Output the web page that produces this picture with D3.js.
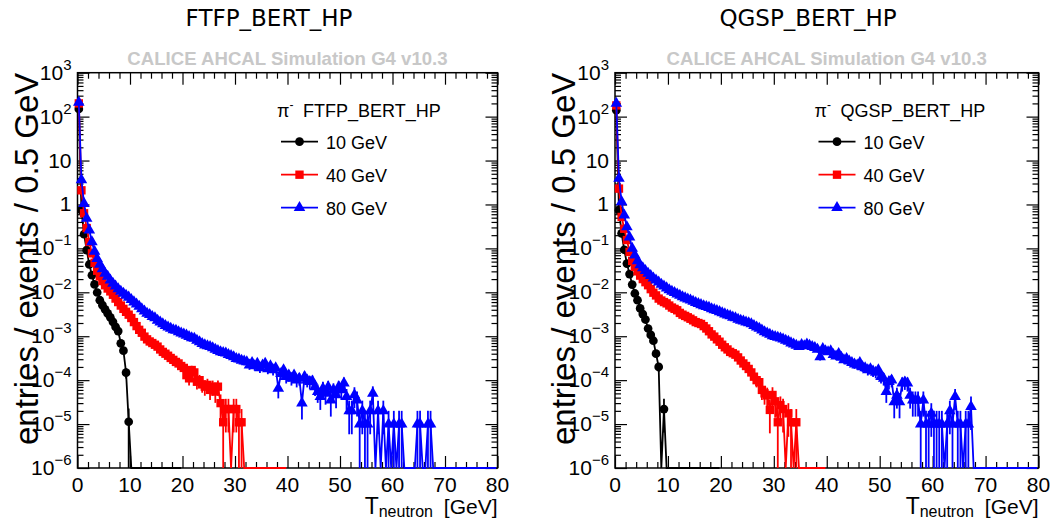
<!DOCTYPE html>
<html>
<head>
<meta charset="utf-8">
<script src="https://cdn.jsdelivr.net/npm/d3@7"></script>
<style>
body { margin: 0; background: #fff; }
svg { display: block; }
text { font-family: "Liberation Sans", Arial, sans-serif; }
</style>
</head>
<body>
<svg id="chart" width="1054" height="522"></svg>
<script>
// histograms: entries / events per 0.5 GeV bin, first bin is 0-0.5 GeV
var binWidth = 0.5;
var beams = ["10 GeV", "40 GeV", "80 GeV"];
var models = ["FTFP_BERT_HP", "QGSP_BERT_HP"];
var histEnd = [20, 40, 80];      // upper edge of each histogram (GeV)
var entryWeight = 1.05e-5;       // weight of a single entry

var ftfp10 = [150, 0.74, 0.21, 0.091, 0.043, 0.0245, 0.0151, 0.0099, 0.0066, 0.0051,
    0.0041, 0.0033, 0.0027, 0.00213, 0.00164, 0.00131, 0.00069, 0.00047, 0.000148, 1.13e-5];

var ftfp40 = [200, 2.1, 0.63, 0.29, 0.14, 0.077, 0.047, 0.031, 0.023, 0.018,
    0.0145, 0.0122, 0.0105, 0.0088, 0.0072, 0.0060, 0.0050, 0.0042, 0.0036, 0.0031,
    0.0026, 0.0021, 0.0017, 0.0014, 0.0012, 0.00098, 0.00085, 0.00076, 0.00070, 0.00064,
    0.00058, 0.00050, 0.00044, 0.00040, 0.00036, 0.00032, 0.00029, 0.00026, 0.00024, 0.00021,
    0.00019, 0.00013, 0.00011, 0.00017, 0.00015, 9.2e-5, 0.00010, 8.0e-5, 7.1e-5, 7.8e-5,
    6.0e-5, 7.1e-5, 5.5e-5, 7.1e-5, 3.0e-5, 1.1e-5, 2.2e-5, 2.2e-5, 0, 2.2e-5,
    2.2e-5, 1.1e-5, 1.1e-5];

var ftfp80 = [210, 3.6, 1.05, 0.48, 0.26, 0.14, 0.085, 0.058, 0.043, 0.034,
    0.027, 0.023, 0.019, 0.016, 0.0138, 0.0120, 0.0105, 0.0094, 0.0085, 0.0077,
    0.0068, 0.0060, 0.0054, 0.0048, 0.0042, 0.0037, 0.0033, 0.0031, 0.0028, 0.0026,
    0.0023, 0.0021, 0.0019, 0.00175, 0.0016, 0.0015, 0.0014, 0.00135, 0.00126, 0.00118,
    0.00112, 0.00105, 0.00098, 0.00092, 0.00089, 0.00080, 0.00074, 0.00068, 0.00063, 0.00060,
    0.00058, 0.00054, 0.00050, 0.00047, 0.00044, 0.00042, 0.00041, 0.00038, 0.00036, 0.00034,
    0.00031, 0.00030, 0.00028, 0.00027, 0.00026, 0.00022, 0.00025, 0.00021, 0.00024, 0.00019,
    0.00022, 0.00024, 0.00018, 0.00021, 0.00017, 0.00019, 6.5e-5, 0.00014, 0.00017, 0.00012,
    0.00013, 0.00011, 0.00013, 0.00010, 0.00011, 3.0e-5, 0.00012, 0.00010, 9.2e-5, 9.5e-5,
    7.0e-5, 5.5e-5, 4.2e-5, 6.5e-5, 5.0e-5, 7.0e-5, 3.5e-5, 6.0e-5, 4.6e-5, 7.0e-5,
    6.0e-5, 8.5e-5, 4.2e-5, 2.0e-5, 2.0e-5, 4.6e-5, 3.5e-5, 1.0e-5, 2.0e-5, 1.0e-5,
    1.0e-5, 2.0e-5, 5.0e-5, 0, 2.0e-5, 0, 2.0e-5, 0, 1.0e-5, 0,
    1.0e-5, 0, 1.0e-5, 1.0e-5, 0, 0, 0, 0, 0, 1.0e-5,
    1.0e-5, 0, 0, 1.0e-5, 1.0e-5];

var qgsp10 = [140, 0.74, 0.22, 0.093, 0.045, 0.026, 0.015, 0.0094, 0.0066, 0.0043,
    0.0032, 0.0024, 0.0015, 0.00107, 0.00079, 0.00040, 0.00020, 0, 2.2e-5];

var qgsp40 = [180, 2.3, 0.52, 0.28, 0.155, 0.083, 0.052, 0.038, 0.030, 0.024,
    0.020, 0.017, 0.0145, 0.0118, 0.0098, 0.0085, 0.0072, 0.0065, 0.0060, 0.0056,
    0.0050, 0.0045, 0.0042, 0.0039, 0.0034, 0.0031, 0.0029, 0.0027, 0.0025, 0.0023,
    0.0021, 0.0020, 0.0019, 0.0017, 0.0015, 0.0013, 0.0011, 0.00098, 0.00085, 0.00075,
    0.00064, 0.00056, 0.00050, 0.00044, 0.00041, 0.00038, 0.00033, 0.00028, 0.00024, 0.00021,
    0.00018, 0.00015, 0.00012, 0.00010, 9.0e-5, 6.0e-5, 5.0e-5, 4.5e-5, 2.1e-5, 4.6e-5,
    3.3e-5, 1.1e-5, 2.7e-5, 2.2e-5, 0, 1.75e-5, 1.1e-5, 0, 1.1e-5];

var qgsp80 = [200, 3.9, 1.15, 0.57, 0.31, 0.18, 0.10, 0.070, 0.052, 0.042,
    0.036, 0.031, 0.027, 0.024, 0.021, 0.019, 0.017, 0.0152, 0.0138, 0.0125,
    0.0114, 0.0105, 0.0098, 0.0091, 0.0085, 0.0079, 0.0074, 0.0070, 0.0066, 0.0062,
    0.0058, 0.0055, 0.0052, 0.0049, 0.0047, 0.0045, 0.0042, 0.0040, 0.0038, 0.0036,
    0.0034, 0.0032, 0.0030, 0.0029, 0.0027, 0.0026, 0.0024, 0.0023, 0.0022, 0.0021,
    0.0020, 0.0019, 0.00175, 0.0016, 0.0015, 0.00138, 0.00126, 0.00118, 0.0011, 0.00102,
    0.00098, 0.00094, 0.00090, 0.00086, 0.00080, 0.00076, 0.00070, 0.00066, 0.00062, 0.00058,
    0.00064, 0.00060, 0.00066, 0.00062, 0.00058, 0.00055, 0.00050, 0.00034, 0.00052, 0.00046,
    0.00044, 0.00046, 0.00038, 0.00035, 0.00040, 0.00033, 0.00029, 0.00031, 0.00027, 0.00025,
    0.00023, 0.00022, 0.00025, 0.00020, 0.00019, 0.00017, 0.00018, 0.00016, 0.00015, 0.00017,
    0.00012, 0.00011, 5.5e-5, 9.2e-5, 0.00010, 3.2e-5, 4.5e-5, 3.2e-5, 8.5e-5, 9.0e-5,
    8.5e-5, 4.5e-5, 3.5e-5, 3.5e-5, 3.5e-5, 1.0e-5, 3.5e-5, 1.0e-5, 1.0e-5, 1.75e-5,
    1.0e-5, 1.0e-5, 1.0e-5, 1.0e-5, 0, 1.0e-5, 2.0e-5, 1.0e-5, 4.2e-5, 1.0e-5,
    1.0e-5, 0, 1.0e-5, 1.0e-5, 2.5e-5];

var xTicks = [0, 10, 20, 30, 40, 50, 60, 70, 80];
var yDecades = [-6, -5, -4, -3, -2, -1, 0, 1, 2, 3];

var colors = ["#000000", "#ff0000", "#0000ff"];
var symbols = [d3.symbolCircle, d3.symbolSquare, d3.symbolTriangle];
var symbolSizes = [60, 70, 58];

var plotTop = 72.7;
var plotHeight = 395.3;

var panels = [
    {model: models[0], left: 77.5, width: 420, titleX: 269, series: [ftfp10, ftfp40, ftfp80]},
    {model: models[1], left: 615, width: 423.5, titleX: 808, series: [qgsp10, qgsp40, qgsp80]}
];

var svg = d3.select("#chart");

panels.forEach(function(p) {
    var g = svg.append("g")
        .attr("transform", "translate(" + p.left + "," + plotTop + ")");

    var x = d3.scaleLinear().domain([0, 80]).range([0, p.width]);
    var y = d3.scaleLog().domain([1e-6, 1e3]).range([plotHeight, 0]);

    var xMinor = d3.range(0, 81, 2).filter(function(v) { return v % 10 != 0; });
    var yMinor = [];
    yDecades.slice(0, -1).forEach(function(d) {
        for (var k = 2; k <= 9; k++) yMinor.push(k * Math.pow(10, d));
    });
    var yMajor = yDecades.map(function(d) { return Math.pow(10, d); });

    // ticks on all four sides, pointing into the frame
    function tickAxis(axis, vals, len, transform) {
        var a = g.append("g")
            .attr("class", "axis")
            .attr("transform", transform || null)
            .call(axis.tickValues(vals).tickSizeInner(-len).tickSizeOuter(0).tickFormat(""));
        a.select(".domain").remove();
        a.selectAll("line").attr("stroke", "#000").attr("stroke-width", 1.2);
        return a;
    }
    tickAxis(d3.axisBottom(x), xTicks, 12, "translate(0," + plotHeight + ")");
    tickAxis(d3.axisBottom(x), xMinor, 6, "translate(0," + plotHeight + ")");
    tickAxis(d3.axisTop(x), xTicks, 12);
    tickAxis(d3.axisTop(x), xMinor, 6);
    tickAxis(d3.axisLeft(y), yMajor, 12);
    tickAxis(d3.axisLeft(y), yMinor, 6);
    tickAxis(d3.axisRight(y), yMajor, 12, "translate(" + p.width + ",0)");
    tickAxis(d3.axisRight(y), yMinor, 6, "translate(" + p.width + ",0)");

    // x tick labels
    g.selectAll(".xlab")
        .data(xTicks)
        .enter()
        .append("text")
            .attr("x", function(d) { return x(d); })
            .attr("y", plotHeight + 24)
            .attr("text-anchor", "middle")
            .style("font-size", "21px")
            .text(function(d) { return d; });

    // y tick labels with exponents
    yDecades.forEach(function(d) {
        var t = g.append("text")
            .attr("x", -6)
            .attr("y", y(Math.pow(10, d)) + 7)
            .attr("text-anchor", "end")
            .style("font-size", "21px");
        if (d == 0) { t.text("1"); return; }
        if (d == 1) { t.text("10"); return; }
        t.append("tspan").text("10");
        t.append("tspan")
            .attr("dy", -10)
            .style("font-size", "15px")
            .text(d < 0 ? "\u2212" + (-d) : d);
    });

    // frame
    g.append("rect")
        .attr("width", p.width)
        .attr("height", plotHeight)
        .attr("fill", "none")
        .attr("stroke", "#000")
        .attr("stroke-width", 1.5);

    // axis titles
    g.append("text")
        .attr("transform", "translate(" + (-40) + ",0) rotate(-90)")
        .attr("text-anchor", "end")
        .style("font-size", "33px")
        .text("entries / events / 0.5 GeV");

    var xt = g.append("text")
        .attr("x", p.width)
        .attr("y", plotHeight + 46)
        .attr("text-anchor", "end")
        .style("font-size", "21px");
    xt.append("tspan").style("font-size", "23px").text("T");
    xt.append("tspan").attr("dy", 3).style("font-size", "16px").text("neutron");
    xt.append("tspan").attr("dy", -3).attr("dx", 5).text(" [GeV]");

    // canvas title and watermark
    svg.append("text")
        .attr("x", p.titleX)
        .attr("y", 26)
        .attr("text-anchor", "middle")
        .style("font-family", "'DejaVu Sans', sans-serif")
        .style("font-size", "23px")
        .text(p.model);

    g.append("text")
        .attr("x", p.width / 2)
        .attr("y", -8)
        .attr("text-anchor", "middle")
        .attr("fill", "#c8c8c8")
        .style("font-weight", "bold")
        .style("font-size", "18.6px")
        .text("CALICE AHCAL Simulation G4 v10.3");

    // data
    var bottom = plotHeight;
    function yv(v) { return v > 0 ? y(v) : bottom; }

    p.series.forEach(function(vals, si) {
        var pts = vals.map(function(v, i) { return {e: (i + 0.5) * binWidth, v: v}; });
        var nBins = Math.round(histEnd[si] / binWidth);
        for (var i = vals.length; i < nBins; i++) pts.push({e: (i + 0.5) * binWidth, v: 0});

        var line = d3.line()
            .x(function(d) { return x(d.e); })
            .y(function(d) { return yv(d.v); });

        g.append("path")
            .datum(pts)
            .attr("d", line)
            .attr("fill", "none")
            .attr("stroke", colors[si])
            .attr("stroke-width", 1.8);

        // error bars, sqrt(N) per bin
        var filled = pts.filter(function(d) { return d.v > 0; });
        g.selectAll(".err-" + si)
            .data(filled)
            .enter()
            .append("line")
                .attr("x1", function(d) { return x(d.e); })
                .attr("x2", function(d) { return x(d.e); })
                .attr("y1", function(d) {
                    var n = Math.max(1, Math.round(d.v / entryWeight));
                    var lo = d.v - d.v / Math.sqrt(n);
                    return lo > 1e-6 ? y(lo) : bottom;
                })
                .attr("y2", function(d) {
                    var n = Math.max(1, Math.round(d.v / entryWeight));
                    return y(d.v + d.v / Math.sqrt(n));
                })
                .attr("stroke", colors[si])
                .attr("stroke-width", 1.8);

        g.selectAll(".dot-" + si)
            .data(filled)
            .enter()
            .append("path")
                .attr("transform", function(d) { return "translate(" + x(d.e) + "," + y(d.v) + ")"; })
                .attr("d", d3.symbol().type(symbols[si]).size(symbolSizes[si]))
                .attr("fill", colors[si]);
    });

    // legend
    var legend = g.append("g")
        .attr("transform", "translate(" + 199.5 + ",0)");

    var head = legend.append("text")
        .attr("x", 0)
        .attr("y", 44)
        .style("font-size", "18px");
    head.append("tspan").text("\u03c0");
    head.append("tspan").attr("dy", -8).style("font-size", "12px").text("-");
    head.append("tspan").attr("dy", 8).attr("x", 26).text(p.model);

    beams.forEach(function(b, i) {
        var ly = 69 + 33 * i;
        legend.append("line")
            .attr("x1", 4)
            .attr("x2", 41)
            .attr("y1", ly)
            .attr("y2", ly)
            .attr("stroke", colors[i])
            .attr("stroke-width", 1.8);
        legend.append("path")
            .attr("transform", "translate(22.5," + ly + ")")
            .attr("d", d3.symbol().type(symbols[i]).size(symbolSizes[i]))
            .attr("fill", colors[i]);
        legend.append("text")
            .attr("x", 49)
            .attr("y", ly + 7)
            .style("font-size", "18px")
            .text(b);
    });
});
</script>
</body>
</html>
